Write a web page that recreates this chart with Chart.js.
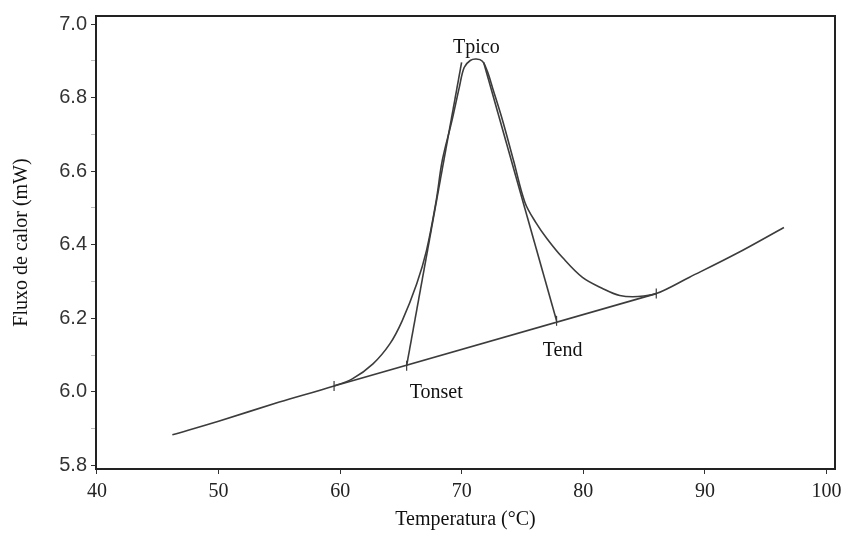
<!DOCTYPE html>
<html>
<head>
<meta charset="utf-8">
<script src="https://cdn.jsdelivr.net/npm/chart.js@4"></script>
<style>
  body { margin: 0; background: #fff; }
  #wrap { width: 854px; height: 533px; }
</style>
</head>
<body>
<div id="wrap"><canvas id="dsc_chart" width="854" height="533"></canvas></div>
<script>
// DSC trace: temperature (ºC) vs heat flow (mW)
var temp = [46.2, 50, 55, 59.5, 61.0, 62.7, 64.1, 65.1, 66.3, 67.1, 67.9, 68.4, 69.2, 69.8, 70.2, 70.7, 71.2, 71.7, 72.1, 72.55, 73.36, 74.26, 75.2, 76.1, 77.0, 78.29, 79.93, 81.58, 83.0, 84.5, 86.0, 88.7, 92.6, 96.5];
var flux = [5.883, 5.920, 5.972, 6.016, 6.035, 6.076, 6.131, 6.193, 6.294, 6.384, 6.520, 6.629, 6.738, 6.828, 6.882, 6.901, 6.905, 6.899, 6.872, 6.825, 6.738, 6.629, 6.515, 6.460, 6.417, 6.365, 6.311, 6.281, 6.262, 6.259, 6.267, 6.311, 6.376, 6.447];

// interpolated baseline under the peak
var baseT = [59.5, 86.0];
var baseF = [6.016, 6.267];

// tangent lines for onset and end
var onsetT = [65.47, 69.99];
var onsetF = [6.071, 6.896];
var endT = [77.8, 71.8];
var endF = [6.193, 6.896];

// small vertical marks on the baseline
var markT = [59.5, 65.47, 77.8, 86.0];
var markF = [6.016, 6.071, 6.193, 6.267];

// annotation text
var noteText = ['Tpico', 'Tonset', 'Tend'];
var noteT = [71.2, 67.9, 78.3];
var noteF = [6.937, 5.997, 6.112];

var xTicks = [40, 50, 60, 70, 80, 90, 100];

function toPoints(xs, ys) {
    return xs.map(function (x, i) { return { x: x, y: ys[i] }; });
}

var lineColor = '#3c3c3c';

var framePlugin = {
    id: 'frame',
    afterDraw: function (chart) {
        var a = chart.chartArea, ctx = chart.ctx;
        ctx.save();
        ctx.strokeStyle = '#222';
        ctx.lineWidth = 2;
        ctx.strokeRect(a.left, a.top, a.right - a.left, a.bottom - a.top);
        ctx.restore();
    }
};

var notesPlugin = {
    id: 'notes',
    afterDatasetsDraw: function (chart) {
        var ctx = chart.ctx, xs = chart.scales.x, ys = chart.scales.y;
        ctx.save();
        ctx.font = '20px "Liberation Serif"';
        ctx.fillStyle = '#111';
        ctx.textAlign = 'center';
        ctx.textBaseline = 'middle';
        noteText.forEach(function (t, i) {
            ctx.fillText(t, xs.getPixelForValue(noteT[i]), ys.getPixelForValue(noteF[i]));
        });
        ctx.restore();
    }
};

new Chart(document.getElementById('dsc_chart').getContext('2d'), {
    type: 'line',
    data: {
        datasets: [{
            data: toPoints(temp, flux),
            borderColor: lineColor,
            borderWidth: 1.6,
            pointRadius: 0,
            tension: 0.35
        }, {
            data: toPoints(baseT, baseF),
            borderColor: lineColor,
            borderWidth: 1.6,
            pointRadius: 0
        }, {
            data: toPoints(onsetT, onsetF),
            borderColor: lineColor,
            borderWidth: 1.6,
            pointRadius: 0
        }, {
            data: toPoints(endT, endF),
            borderColor: lineColor,
            borderWidth: 1.6,
            pointRadius: 0
        }, {
            data: toPoints(markT, markF),
            showLine: false,
            pointStyle: 'line',
            rotation: 90,
            pointRadius: 5,
            borderColor: lineColor,
            borderWidth: 1.2
        }]
    },
    options: {
        responsive: false,
        animation: false,
        layout: { padding: { top: 16, right: 19, left: 0, bottom: 0 } },
        plugins: { legend: { display: false }, tooltip: { enabled: false } },
        scales: {
            x: {
                type: 'linear',
                min: 39.92,
                max: 100.7,
                afterFit: function (s) { s.height = 64; },
                afterBuildTicks: function (s) {
                    s.ticks = xTicks.map(function (v) { return { value: v }; });
                },
                grid: { drawOnChartArea: false, tickLength: 5, tickColor: '#333' },
                border: { display: false },
                ticks: {
                    padding: 6,
                    color: '#222',
                    maxRotation: 0,
                    font: { family: 'Liberation Serif', size: 20 }
                },
                title: {
                    display: true,
                    text: 'Temperatura (°C)',
                    color: '#111',
                    font: { family: 'Liberation Serif', size: 20 },
                    padding: { top: 0, bottom: 1 }
                }
            },
            y: {
                min: 5.79,
                max: 7.022,
                afterFit: function (s) { s.width = 96; },
                ticks: {
                    stepSize: 0.1,
                    includeBounds: false,
                    padding: 4,
                    color: '#333',
                    font: { family: 'Liberation Sans', size: 20 },
                    callback: function (v) {
                        var k = Math.round(v * 10);
                        return k % 2 === 0 ? (k / 10).toFixed(1) : '';
                    }
                },
                grid: {
                    drawOnChartArea: false,
                    tickLength: 5,
                    tickColor: function (c) {
                        return Math.round(c.tick.value * 10) % 2 === 0 ? '#333' : '#bbb';
                    }
                },
                border: { display: false },
                title: {
                    display: true,
                    text: 'Fluxo de calor (mW)',
                    color: '#111',
                    font: { family: 'Liberation Serif', size: 20 },
                    padding: { top: 10, bottom: 0 }
                }
            }
        }
    },
    plugins: [framePlugin, notesPlugin]
});
</script>
</body>
</html>
